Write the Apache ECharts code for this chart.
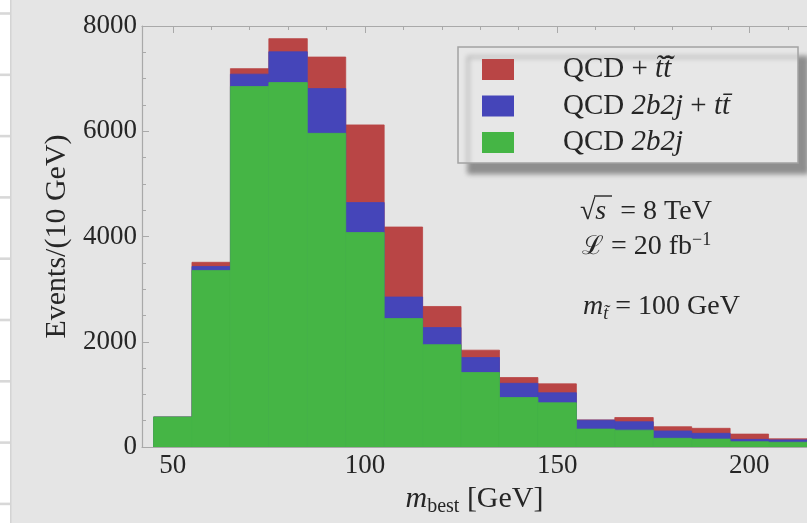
<!DOCTYPE html>
<html>
<head>
<meta charset="utf-8">
<script src="https://cdn.jsdelivr.net/npm/echarts@6/dist/echarts.min.js"></script>
<style>
  html, body { margin: 0; padding: 0; background: #e5e5e5; }
  #chart { width: 807px; height: 523px; }
</style>
</head>
<body>
<div id="chart"></div>
<script>
// Histogram bin edges, 10 GeV wide
const binEdges = [45, 55, 65, 75, 85, 95, 105, 115, 125, 135, 145, 155, 165, 175, 185, 195, 205, 215];

// Events per bin (each series is the total of its own sample, drawn on top of each other)
const qcdStopTotal = [570, 3510, 7190, 7760, 7410, 6120, 4180, 2670, 1840, 1320, 1200, 515, 560, 385, 355, 245, 155];
const qcdTopTotal  = [570, 3430, 7085, 7510, 6810, 4645, 2850, 2270, 1700, 1210, 1030, 510, 480, 305, 260, 145, 135];
const qcd2b2j      = [570, 3355, 6850, 6925, 5960, 4075, 2440, 1945, 1415, 940, 840, 340, 320, 165, 150, 100, 90];

const seriesNames = ['stop', 'ttbar', 'qcd'];

// Axis ticks and labels
const xTickLabels = [50, 100, 150, 200];
const xMinorTicks = [50, 60, 70, 80, 90, 100, 110, 120, 130, 140, 150, 160, 170, 180, 190, 200, 210];
const yTickLabels = [0, 2000, 4000, 6000, 8000];

const SERIF = '"Liberation Serif", "DejaVu Serif", serif';
const INK = '#262626';
const FRAME = '#a9a9a9';

function binData(values) {
  return values.map((v, i) => [binEdges[i], binEdges[i + 1], v]);
}

function histItem(params, api) {
  const lo = api.value(0), hi = api.value(1), v = api.value(2);
  const p0 = api.coord([lo, v]);
  const p1 = api.coord([hi, 0]);
  const color = api.visual('color');
  return {
    type: 'rect',
    shape: { x: p0[0], y: p0[1], width: p1[0] - p0[0], height: p1[1] - p0[1] },
    style: { fill: color, stroke: color, lineWidth: 0.8 }
  };
}

function histSeries(name, values, color) {
  return {
    name: name,
    type: 'custom',
    renderItem: histItem,
    data: binData(values),
    encode: { x: [0, 1], y: 2 },
    itemStyle: { color: color },
    clip: true,
    silent: true
  };
}

const legendText = {
  stop: '{p|QCD + }{i|t\u0303t\u0303\u0304}',
  ttbar: '{p|QCD }{i|2b2j}{r| + }{i|tt\u0304}',
  qcd: '{p|QCD }{i|2b2j}'
};

const stripLines = [13.5, 74.8, 136.1, 197.4, 258.7, 320, 381.3, 442.6, 503.9];

const chart = echarts.init(document.getElementById('chart'), null, { renderer: 'canvas' });

function topOrBottomAxis(position, ticks, len, showLine, labels) {
  return {
    type: 'value', position: position, min: 42, max: 215,
    axisLine: { show: showLine, onZero: false, lineStyle: { color: FRAME, width: 1.2 } },
    axisTick: { show: true, inside: true, length: len, customValues: ticks, lineStyle: { color: FRAME } },
    axisLabel: labels ? {
      show: true, customValues: labels, margin: 5,
      fontFamily: SERIF, fontSize: 27, color: INK
    } : { show: false },
    splitLine: { show: false }
  };
}

const xBottom = topOrBottomAxis('bottom', xTickLabels, 7, true, xTickLabels);
xBottom.name = '{i|m}{sub|best}{r| [GeV]}';
xBottom.nameLocation = 'middle';
xBottom.nameGap = 30;
xBottom.nameTextStyle = {
  rich: {
    i: { fontFamily: SERIF, fontStyle: 'italic', fontSize: 30, color: INK, lineHeight: 36, verticalAlign: 'middle' },
    sub: { fontFamily: SERIF, fontSize: 20, color: INK, lineHeight: 22, verticalAlign: 'bottom' },
    r: { fontFamily: SERIF, fontSize: 30, color: INK, lineHeight: 36, verticalAlign: 'middle' }
  }
};

const option = {
  backgroundColor: '#e5e5e5',
  animation: false,
  grid: { left: 142, top: 26, bottom: 76, right: -7, containLabel: false },
  xAxis: [
    xBottom,
    topOrBottomAxis('bottom', xMinorTicks, 4, false, null),
    topOrBottomAxis('top', xTickLabels, 7, true, null),
    topOrBottomAxis('top', xMinorTicks, 4, false, null)
  ],
  yAxis: [{
    type: 'value', min: 0, max: 8000, interval: 2000,
    axisLine: { show: true, lineStyle: { color: FRAME, width: 1.2 } },
    axisTick: { show: true, inside: true, length: 7, lineStyle: { color: FRAME } },
    minorTick: { show: true, splitNumber: 4, length: 4, lineStyle: { color: FRAME } },
    axisLabel: {
      margin: 5, fontFamily: SERIF, fontSize: 27, color: INK,
      customValues: yTickLabels,
      formatter: v => String(v)
    },
    splitLine: { show: false },
    name: 'Events/(10 GeV)',
    nameLocation: 'middle',
    nameRotate: 90,
    nameGap: 64,
    nameTextStyle: { fontFamily: SERIF, fontSize: 30, color: INK }
  }],
  legend: {
    orient: 'vertical',
    left: 458, top: 47,
    padding: [8, 68, 6, 24],
    itemWidth: 32, itemHeight: 21, itemGap: 7.5,
    icon: 'rect',
    backgroundColor: '#e7e7e7',
    borderColor: '#a3a3a3', borderWidth: 1.5,
    shadowColor: 'rgba(0,0,0,0.38)', shadowBlur: 5, shadowOffsetX: 10, shadowOffsetY: 10,
    selectedMode: false,
    data: seriesNames,
    formatter: name => legendText[name],
    textStyle: {
      fontFamily: SERIF, fontSize: 29, color: INK, lineHeight: 21,
      rich: {
        p: { fontFamily: SERIF, fontSize: 29, color: INK, lineHeight: 21, padding: [0, 0, 0, 44] },
        i: { fontFamily: SERIF, fontStyle: 'italic', fontSize: 29, color: INK, lineHeight: 21 },
        r: { fontFamily: SERIF, fontSize: 29, color: INK, lineHeight: 21 }
      }
    }
  },
  series: [
    histSeries('stop', qcdStopTotal, '#b94545'),
    histSeries('ttbar', qcdTopTotal, '#4545b9'),
    histSeries('qcd', qcd2b2j, '#45b545')
  ],
  graphic: [
    // neighbouring panel edge on the left
    { type: 'rect', shape: { x: 0, y: 0, width: 10, height: 523 }, style: { fill: '#ffffff' }, silent: true },
    { type: 'rect', shape: { x: 10, y: 0, width: 1.5, height: 523 }, style: { fill: '#d4d4d4' }, silent: true },
    ...stripLines.map(y => ({
      type: 'rect', shape: { x: 0, y: y - 1.3, width: 10, height: 2.6 }, style: { fill: '#d8d8d8' }, silent: true
    })),
    // physics annotations
    {
      type: 'text', x: 580, y: 212,
      style: {
        text: '{r|\u221A}{i|s}{r|  = 8 TeV}',
        verticalAlign: 'middle',
        rich: {
          r: { fontFamily: SERIF, fontSize: 28, fill: INK },
          i: { fontFamily: SERIF, fontStyle: 'italic', fontSize: 28, fill: INK }
        }
      }
    },
    { type: 'line', shape: { x1: 594, y1: 196, x2: 612, y2: 196 }, style: { stroke: INK, lineWidth: 1.4 } },
    {
      type: 'text', x: 582, y: 247,
      style: {
        text: '{sc|\u2112}{r| = 20 fb}{sup|\u22121}',
        verticalAlign: 'middle',
        rich: {
          sc: { fontFamily: '"DejaVu Serif", serif', fontSize: 26, fill: INK, lineHeight: 32, verticalAlign: 'middle' },
          r: { fontFamily: SERIF, fontSize: 28, fill: INK, lineHeight: 32, verticalAlign: 'middle' },
          sup: { fontFamily: SERIF, fontSize: 18, fill: INK, lineHeight: 18, verticalAlign: 'top' }
        }
      }
    },
    {
      type: 'text', x: 583, y: 307,
      style: {
        text: '{i|m}{sub|t\u0303}{r| = 100 GeV}',
        verticalAlign: 'middle',
        rich: {
          i: { fontFamily: SERIF, fontStyle: 'italic', fontSize: 28, fill: INK, lineHeight: 32, verticalAlign: 'middle' },
          sub: { fontFamily: SERIF, fontStyle: 'italic', fontSize: 18, fill: INK, lineHeight: 18, verticalAlign: 'bottom' },
          r: { fontFamily: SERIF, fontSize: 28, fill: INK, lineHeight: 32, verticalAlign: 'middle' }
        }
      }
    }
  ]
};

chart.setOption(option);
</script>
</body>
</html>
